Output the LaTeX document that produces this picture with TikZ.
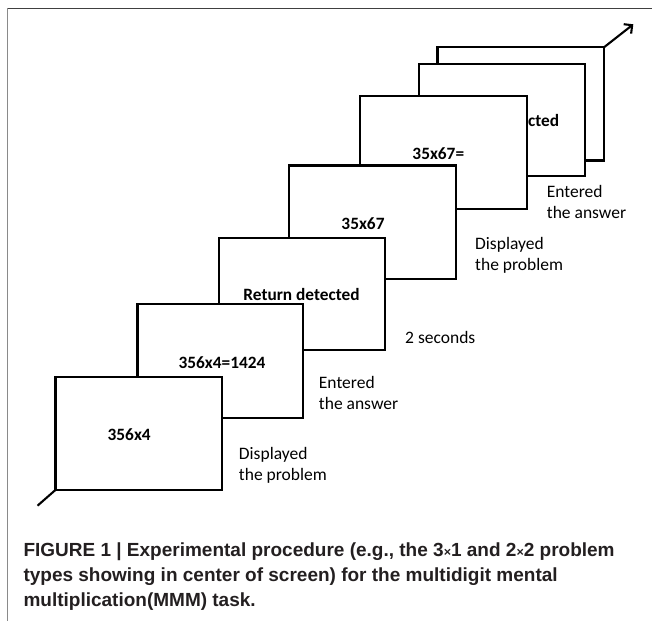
\documentclass[tikz,border=0pt]{standalone}
\usepackage{fontspec}
\setmainfont{Carlito}
\newfontfamily\capfont{Liberation Sans}
\usetikzlibrary{arrows.meta}
\definecolor{capcol}{HTML}{231F20}
\definecolor{frametop}{HTML}{404040}
\definecolor{frameleft}{HTML}{8A8A8A}
\tikzset{
  screen/.style={draw=black, fill=white, line width=2.3pt, inner sep=0pt, outer sep=0pt},
  boxtext/.style={inner sep=0pt, font=\fontsize{17.3}{20}\selectfont\bfseries},
  steplabel/.style={inner sep=0pt, anchor=west, align=left, font=\fontsize{17.5}{21}\selectfont},
  link/.style={line width=2.1pt}
}
\begin{document}
\begin{tikzpicture}[x=1pt,y=-1pt]
\useasboundingbox (0,0) rectangle (652,621);
% frame
\draw[frametop, line width=1.3pt] (7.5,8.3) -- (652,8.3);
\draw[frameleft, line width=1.6pt] (7.5,8.3) -- (7.5,621);
% screens, back to front
\node[screen, minimum width=166.5pt, minimum height=113.2pt] (b7) at (520.75,103.9) {};
\node[screen, minimum width=166.3pt, minimum height=112pt] (b6) at (501.85,120.2) {};
\node[boxtext, anchor=east] (t6) at (559.3,120.7) {Return detected};
\node[screen, minimum width=167.3pt, minimum height=113.6pt] (b5) at (443.65,152.5) {};
\node[boxtext] (t5) at (438.3,154) {35x67=};
\node[screen, minimum width=167.6pt, minimum height=113.8pt] (b4) at (372.5,222.4) {};
\node[boxtext] (t4) at (363,223.5) {35x67};
\node[screen, minimum width=165.9pt, minimum height=111.7pt] (b3) at (302.25,294.15) {};
\node[boxtext] (t3) at (301.5,294.3) {Return detected};
\node[screen, minimum width=165.5pt, minimum height=113.4pt] (b2) at (220.25,361) {};
\node[boxtext] (t2) at (222,362.7) {356x4=1424};
\node[screen, minimum width=166.3pt, minimum height=113.3pt] (b1) at (138.55,433.35) {};
\node[boxtext] (t1) at (129.2,434.3) {356x4};
% time axis ends
\coordinate (axstart) at (37.5,505.7);
\coordinate (axend) at (633.3,24.3);
\draw[link] (axstart) -- (b1.south west);
\draw[link, -{Straight Barb[length=6pt,width=12pt]}] (b7.north east) -- (axend);
% labels
\node[steplabel] (l6) at (546.7,202.2) {Entered\\the answer};
\node[steplabel] (l5) at (475,255.5) {Displayed\\the problem};
\node[steplabel] (l4) at (405,337.3) {2 seconds};
\node[steplabel] (l3) at (318.75,393.2) {Entered\\the answer};
\node[steplabel] (l2) at (238.75,465.5) {Displayed\\the problem};
% caption
\node[anchor=north west, inner sep=0pt, align=left, text=capcol,
      font=\capfont\bfseries\fontsize{19}{25}\selectfont] (cap) at (23.3,543)
 {FIGURE 1 | Experimental procedure (e.g., the 3{\fontsize{12.5}{12}\selectfont ×}1 and 2{\fontsize{12.5}{12}\selectfont ×}2 problem\\
  types showing in center of screen) for the multidigit mental\\
  multiplication(MMM) task.};
\end{tikzpicture}
\end{document}
